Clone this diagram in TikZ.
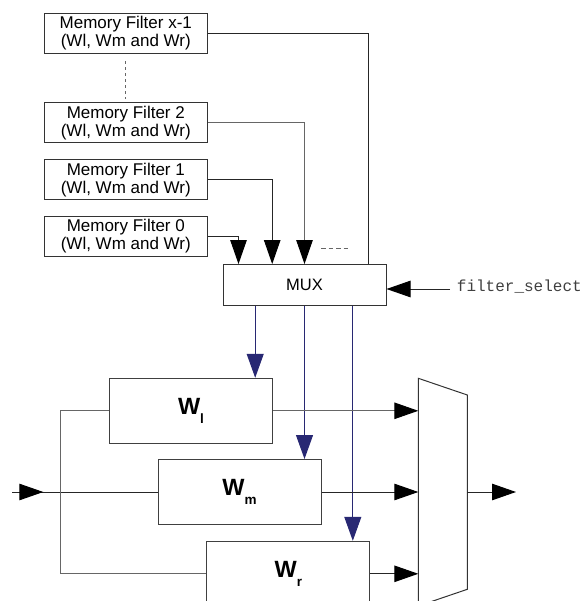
\documentclass[tikz,border=0pt]{standalone}
\usepackage{fontspec}
\setmainfont{Liberation Sans}
\setmonofont{Liberation Mono}
\usetikzlibrary{arrows.meta,calc}
\definecolor{navy}{RGB}{40,40,115}
\begin{document}
\begin{tikzpicture}[x=1pt,y=-1pt,
 tri/.style={-{Triangle[length=24pt,width=16.5pt,color=black]}},
 btri/.style={-{Triangle[length=24pt,width=17pt]}, draw=navy, line width=1pt},
 membox/.style={draw=black!80, line width=1pt, minimum width=163pt, minimum height=40pt, inner sep=0pt, align=center, font=\fontsize{17}{18}\selectfont},
 wbox/.style={draw=black!75, line width=1pt, minimum width=163pt, minimum height=65pt, inner sep=0pt, font=\fontsize{23.5}{23.5}\selectfont\bfseries},
 wire/.style={line width=1pt, draw=black!85},
 gwire/.style={line width=1pt, draw=black!60},
 ]
\useasboundingbox (0,0) rectangle (583,601);
\begin{scope}
\clip (0,0) rectangle (583,601);
% memory filters
\node[membox] (fx) at (125.8,33.3) {Memory Filter x-1\\(Wl, Wm and Wr)};
\node[membox] (f2) at (125.8,122.8) {Memory Filter 2\\(Wl, Wm and Wr)};
\node[membox] (f1) at (125.8,179.8) {Memory Filter 1\\(Wl, Wm and Wr)};
\node[membox] (f0) at (125.8,236.3) {Memory Filter 0\\(Wl, Wm and Wr)};
\draw[gwire, dash pattern=on 3pt off 3pt, shorten <=7.7pt, shorten >=3.7pt] (fx.south) -- (f2.north);
% mux
\node[draw=black!80, line width=1pt, minimum width=163pt, minimum height=40.5pt, inner sep=0pt, font=\fontsize{16.5}{16.5}\selectfont] (mux) at (304.5,284.8) {MUX};
\coordinate (m0) at ($(mux.north west)+(16,0)$);
\coordinate (m1) at ($(mux.north west)+(49.7,0)$);
\coordinate (mx) at ($(mux.north west)+(146.3,0)$);
\draw[wire,tri] (f0.east) -| (m0);
\draw[wire,tri] (f1.east) -| (m1);
\draw[gwire,tri] (f2.east) -| (mux.north);
\draw[wire] (fx.east) -| (mx);
\coordinate (d1) at (321,248.3);
\coordinate (d2) at (350,248.3);
\draw[gwire, dash pattern=on 4.5pt off 3pt] (d1) -- (d2);
% filter_select
\node[anchor=base west, inner sep=0pt, font=\fontsize{16}{16}\selectfont\ttfamily, text=black!75] (fs) at (456.7,291.7) {filter\_select};
\coordinate (fsl) at (450,289);
\draw[wire,tri] (fsl) -- (fsl -| mux.east);
% weight blocks
\node[wbox] (wl) at (191,410.8) {W\raisebox{-9.5pt}{\fontsize{13.5}{13.5}\selectfont l}};
\node[wbox] (wm) at (239.5,492) {W\raisebox{-9.5pt}{\fontsize{13.5}{13.5}\selectfont m}};
\node[wbox] (wr) at (288.3,573.8) {W\raisebox{-9.5pt}{\fontsize{13.5}{13.5}\selectfont r}};
% blue control lines
\coordinate (b1) at ($(mux.south west)+(32.7,0)$);
\coordinate (b3) at ($(mux.south west)+(130.3,0)$);
\draw[btri] (b1) -- (b1 |- wl.north);
\draw[btri] (mux.south) -- (mux.south |- wm.north);
\draw[btri] (b3) -- (b3 |- wr.north);
% output mux trapezoid
\coordinate (tl) at (418.3,378.3);
\coordinate (tr) at (467.3,395);
\coordinate (br) at (467.3,589.3);
\coordinate (bl) at (418.3,606);
\draw[line width=1pt, draw=black!80] (tl) -- (tr) -- (br) -- (bl) -- cycle;
\draw[gwire,tri] (wl.east) -- (wl.east -| tl);
\draw[wire,tri] (wm.east) -- (wm.east -| tl);
\draw[wire,tri] (wr.east) -- (wr.east -| tl);
\coordinate (outp) at (516,492);
\draw[wire,tri] (wm.east -| tr) -- (outp);
% input and bus
\coordinate (inp) at (12.3,492);
\coordinate (inh) at (43.3,492);
\draw[wire] (inp) -- (wm.west);
\draw[wire,tri] (inp) -- (inh);
\coordinate (bus) at (60.7,0);
\draw[gwire] (wl.west) -- (wl.west -| bus) -- (wr.west -| bus) -- (wr.west);
\end{scope}
\end{tikzpicture}
\end{document}
